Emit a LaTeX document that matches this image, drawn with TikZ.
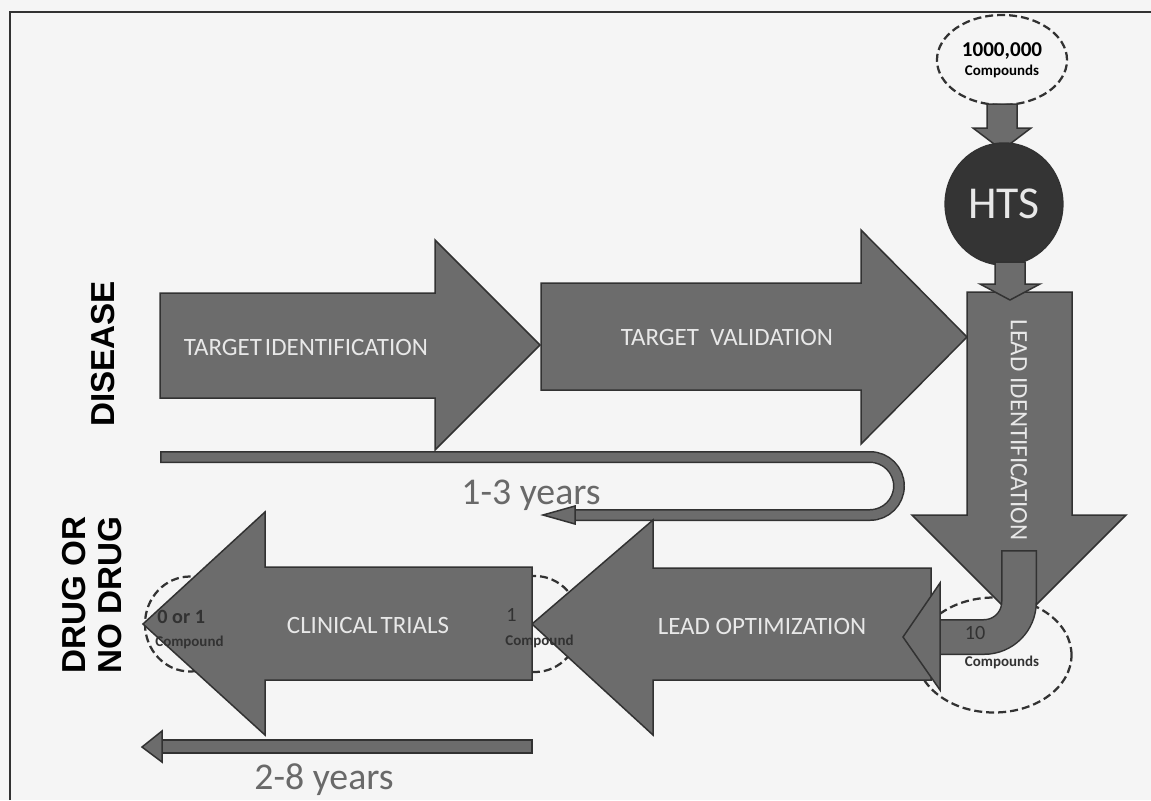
\documentclass[tikz,border=0pt]{standalone}
\usepackage{fontspec}
\setmainfont{Carlito}
\newfontfamily\headfont{Liberation Sans}
\usetikzlibrary{shapes.geometric}

\definecolor{paper}{RGB}{245,245,245}
\definecolor{arrowfill}{RGB}{108,108,108}
\definecolor{arrowline}{RGB}{50,50,50}
\definecolor{htsfill}{RGB}{52,52,52}
\definecolor{steptext}{RGB}{232,232,232}
\definecolor{yeartext}{RGB}{105,105,105}

\tikzset{
  blockarrow/.style={fill=arrowfill, draw=arrowline, line width=0.3mm, line join=miter},
  countring/.style={ellipse, draw=arrowline, line width=0.45mm, dash pattern=on 1.6mm off 0.8mm},
  steplabel/.style={text=steptext, font=\fontsize{14.2}{16}\selectfont},
  yearlabel/.style={text=yeartext, font=\fontsize{21.5}{24}\selectfont},
  sidelabel/.style={font=\headfont\bfseries\fontsize{18.9}{20}\selectfont, rotate=90, align=center},
  countnum/.style={text=arrowline, font=\fontsize{11.5}{12}\selectfont, inner sep=0pt},
  countword/.style={text=arrowline, font=\bfseries\fontsize{8.5}{9}\selectfont, inner sep=0pt},
}

\begin{document}
\begin{tikzpicture}[x=0.2mm, y=-0.2mm]
    \useasboundingbox (0,0) rectangle (1151,800);
    \fill[paper] (0,0) rectangle (1151,800);
    \draw[arrowline, line width=0.3mm] (10,800) -- (10,12) -- (1151,12);

    % compound counts, behind the arrows
    \node[countring, minimum width=19mm, minimum height=18mm, align=center] (pool) at (1002,60)
        {\bfseries\fontsize{12}{13}\selectfont 1000,000\\[-1pt]\bfseries\fontsize{8.5}{9}\selectfont Compounds};
    \node[countring, minimum width=31mm, minimum height=23mm] (tenring) at (994,655) {};
    \node[countring, minimum width=18mm, minimum height=19.2mm] (onering) at (535,624) {};
    \node[countring, minimum width=18mm, minimum height=19mm] (lastring) at (190,624) {};

    % discovery arrows
    \filldraw[blockarrow] (160,293) -- (435,293) -- (435,240) -- (540,345) -- (435,450) -- (435,398) -- (160,398) -- cycle;
    \filldraw[blockarrow] (541,283) -- (861,283) -- (861,230) -- (967,337) -- (861,444) -- (861,390) -- (541,390) -- cycle;

    % 1-3 years
    \draw[arrowline, line width=2.4mm, rounded corners=5.8mm] (160,457) -- (899,457) -- (899,515) -- (575,515);
    \draw[arrowfill, line width=1.8mm, rounded corners=5.8mm] (161.5,457) -- (899,457) -- (899,515) -- (575,515);
    \filldraw[blockarrow] (575,506) -- (543,515) -- (575,524) -- cycle;

    % HTS
    \filldraw[blockarrow] (987,104) -- (1017,104) -- (1017,128) -- (1031,128) -- (1002,150) -- (973,128) -- (987,128) -- cycle;
    \node[ellipse, fill=htsfill, draw=arrowline, line width=0.3mm, minimum width=21.8mm, minimum height=24.4mm,
        text=steptext, font=\fontsize{26}{28}\selectfont] (hts) at (1004,204) {HTS};

    \filldraw[blockarrow] (967,292) -- (1072,292) -- (1072,515) -- (1126,515) -- (1019,622) -- (912,515) -- (967,515) -- cycle;
    \filldraw[blockarrow] (995,262) -- (1025,262) -- (1025,284) -- (1040,284) -- (1010,300) -- (980,284) -- (995,284) -- cycle;

    % development arrows
    \filldraw[blockarrow] (931,568) -- (653,568) -- (653,520) -- (532,624) -- (653,735) -- (653,680) -- (931,680) -- cycle;
    \filldraw[blockarrow] (532,567) -- (265,567) -- (265,512) -- (143,624) -- (265,735) -- (265,680) -- (532,680) -- cycle;

    \draw[arrowline, line width=7.2mm, rounded corners=7mm] (1019,550) -- (1019,637) -- (940,637);
    \draw[arrowfill, line width=6.6mm, rounded corners=7mm] (1019,551.5) -- (1019,637) -- (940,637);
    \filldraw[blockarrow] (940,583) -- (903,637) -- (940,690) -- cycle;

    % 2-8 years
    \filldraw[blockarrow] (160,740) rectangle (532,753);
    \filldraw[blockarrow] (162,731) -- (142,747) -- (162,762) -- cycle;

    \node[steplabel] (tidlabel) at (306,347) {TARGET\kern0.12em IDENTIFICATION};
    \node[steplabel] (tvallabel) at (727,337) {TARGET\ \ VALIDATION};
    \node[steplabel, rotate=-90] (lidlabel) at (1019,430) {LEAD IDENTIFICATION};
    \node[steplabel] (loptlabel) at (762,626) {LEAD OPTIMIZATION};
    \node[steplabel] (ctlabel) at (368,625) {CLINICAL\kern0.12em TRIALS};

    \node[yearlabel] (shortspan) at (531,495) {1-3 years};
    \node[yearlabel] (longspan) at (324,780) {2-8 years};

    \node[sidelabel] (disease) at (103,354) {DISEASE};
    \node[sidelabel] (outcome) at (92,595) {DRUG OR\\NO DRUG};

    \node[countnum] (tennum) at (975,633) {10};
    \node[countword] (tenword) at (1002,662) {Compounds};
    \node[countnum, anchor=west] (onenum) at (506,615) {1};
    \node[countword, anchor=west] (oneword) at (505,641) {Compound};
    \node[countnum, anchor=west, font=\bfseries\fontsize{11.5}{12}\selectfont] (lastnum) at (157,617) {0 or 1};
    \node[countword, anchor=west] (lastword) at (155,642) {Compound};
\end{tikzpicture}
\end{document}
